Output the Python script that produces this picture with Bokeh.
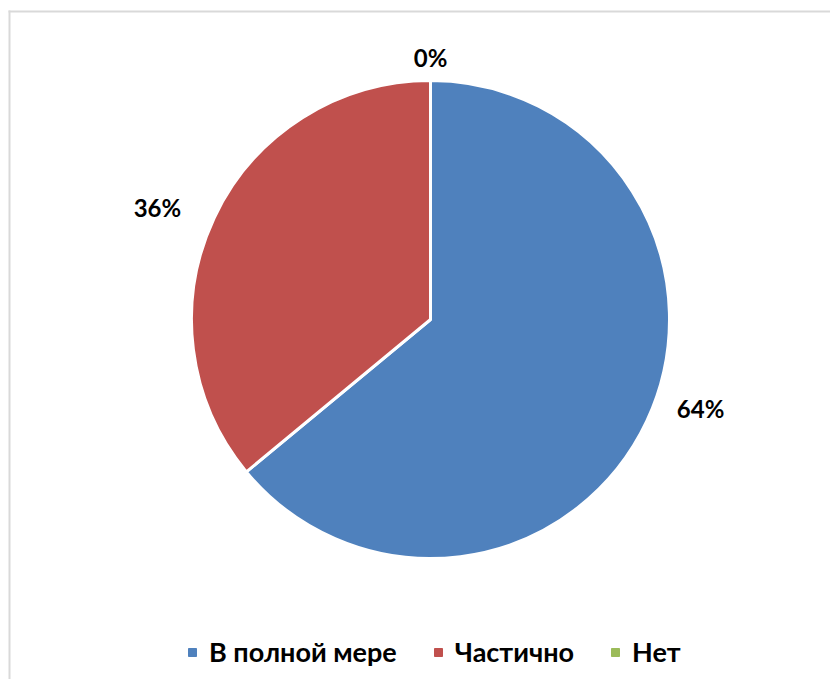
import math
from bokeh.plotting import figure
from bokeh.models import Range1d, ColumnDataSource, Legend, LegendItem
from bokeh.core.properties import value
from bokeh.embed import file_html
from bokeh.resources import INLINE

# ---- data ----
categories = ["В полной мере", "Частично", "Нет"]
shares = [64, 36, 0]
labels = ["64%", "36%", "0%"]
colors = ["#4f81bd", "#c0504d", "#9bbb59"]

# ---- style / layout ----
W, H = 830, 679
CX, CY, R = 430, 360, 239
LABEL_R = 262
label_nudge_x = [33, -36, 0]
label_nudge_y = [23, 0, 0]
FONT = "Lato"

p = figure(width=W, height=H, output_backend="svg", toolbar_location=None,
           x_range=Range1d(0, W), y_range=Range1d(0, H), min_border=0,
           tools="")
p.axis.visible = False
p.grid.visible = False
p.outline_line_color = None
p.background_fill_color = "white"
p.border_fill_color = "white"

# chart border (left and top visible)
p.line(x=[9, 9], y=[0, 669], line_color="#d9d9d9", line_width=2)
p.line(x=[8, W], y=[668, 668], line_color="#d9d9d9", line_width=2)

total = float(sum(shares))
starts, ends, mids = [], [], []
cum = 0.0
for s in shares:
    a0 = math.pi / 2 - 2 * math.pi * cum / total
    cum += s
    a1 = math.pi / 2 - 2 * math.pi * cum / total
    starts.append(a0)
    ends.append(a1)
    mids.append((a0 + a1) / 2)

idx = [i for i, s in enumerate(shares) if s > 0]
src = ColumnDataSource(dict(
    start=[starts[i] for i in idx], end=[ends[i] for i in idx],
    color=[colors[i] for i in idx], x=[CX] * len(idx), y=[CY] * len(idx)))
p.wedge(x="x", y="y", radius=R, start_angle="start", end_angle="end",
        direction="clock", fill_color="color", line_color="white",
        line_width=3, source=src)

lab_src = ColumnDataSource(dict(
    x=[CX + LABEL_R * math.cos(m) + dx for m, dx in zip(mids, label_nudge_x)],
    y=[CY + LABEL_R * math.sin(m) + dy for m, dy in zip(mids, label_nudge_y)],
    text=labels))
p.text(x="x", y="y", text="text", source=lab_src, text_font=value(FONT),
       text_font_style="bold", text_font_size="24px", text_align="center",
       text_baseline="middle", text_color="black")

items = []
for cat, col in zip(categories, colors):
    # off-canvas point so that the legend swatch is drawn
    r = p.scatter(x=[-1000], y=[-1000], marker="square", size=10,
                  fill_color=col, line_color=col)
    items.append(LegendItem(label=cat, renderers=[r]))

legend = Legend(items=items, orientation="horizontal", location=(182, 11),
                label_text_font=FONT, label_text_font_style="bold",
                label_text_font_size="27px", label_text_color="black",
                glyph_width=20, glyph_height=20,
                label_standoff=7, spacing=31, padding=0, margin=0,
                border_line_color=None, background_fill_alpha=0)
p.add_layout(legend)

open("out.html", "w").write(file_html(p, INLINE))
